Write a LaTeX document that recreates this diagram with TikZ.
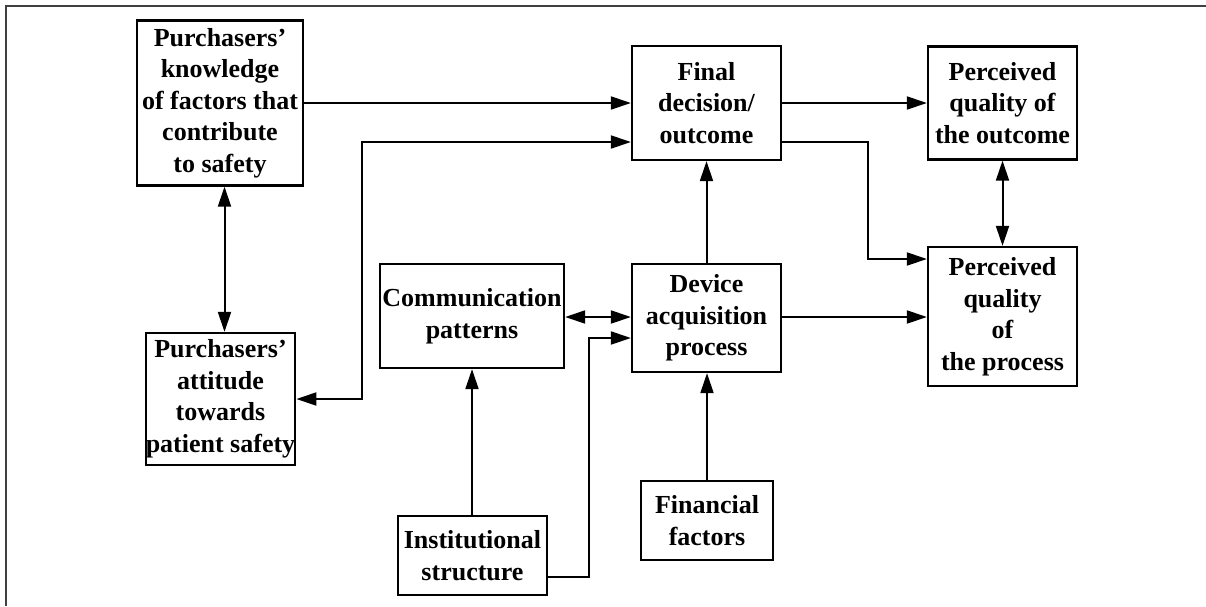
\documentclass[tikz,border=0pt]{standalone}
\usepackage{fontspec}
\setmainfont{Liberation Serif}
\usetikzlibrary{arrows.meta}
\tikzset{
  box/.style={draw, line width=2.3pt, inner sep=0pt, align=center,
    font=\fontsize{26}{31.5}\selectfont\bfseries},
  conn/.style={line width=2pt, -{Triangle[length=20pt,width=13pt]}},
  biconn/.style={line width=2pt, {Triangle[length=20pt,width=13pt]}-{Triangle[length=20pt,width=13pt]}},
  frame/.style={line width=1.4pt, draw=black!75}
}
\begin{document}
\begin{tikzpicture}[x=1pt,y=-1pt]
\useasboundingbox (0,0) rectangle (1206,606);
% outer frame lines
\draw[frame] (6,606) -- (6,6) -- (1206,6);

% boxes
\node[box, minimum width=166pt, minimum height=165pt] (know) at (220,103) {Purchasers’\\knowledge\\of factors that\\contribute\\to safety};
\node[box, minimum width=149pt, minimum height=132pt] (att) at (220.5,399) {Purchasers’\\attitude\\towards\\patient safety};
\node[box, minimum width=149pt, minimum height=114pt] (final) at (706.5,103) {Final\\decision/\\outcome};
\node[box, minimum width=149pt, minimum height=113pt] (pqo) at (1002.5,103) {Perceived\\quality of\\the outcome};
\node[box, minimum width=149pt, minimum height=139pt] (pqp) at (1002.5,316.5) {Perceived\\quality\\of\\the process};
\node[box, minimum width=184pt, minimum height=104pt] (comm) at (472,316) {Communication\\patterns};
\node[box, minimum width=149pt, minimum height=108pt] (dev) at (706.5,318) {Device\\acquisition\\process};
\node[box, minimum width=149pt, minimum height=79pt] (inst) at (472.5,555.5) {Institutional\\structure};
\node[box, minimum width=132pt, minimum height=79pt] (fin) at (707,520.5) {Financial\\factors};

% bend points
\coordinate (attbend) at (362,399);
\coordinate (finbend) at (868,142);
\coordinate (instbend) at (589,577);

% connectors
\draw[conn] (know.east) -- (final.west |- know.east);
\draw[biconn] (att.east) -- (attbend) |- (final.west |- 0,142);
\draw[conn] (final.east) -- (pqo.west |- final.east);
\draw[conn] (final.east |- 0,142) -- (finbend) |- (pqp.west |- 0,259);
\draw[biconn] (pqo.south) -- (pqp.north);
\draw[biconn] (know.south -| 224.5,0) -- (att.north -| 224.5,0);
\draw[biconn] (comm.east |- 0,317) -- (dev.west |- 0,317);
\draw[conn] (inst.east |- instbend) -- (instbend) |- (dev.west |- 0,338);
\draw[conn] (inst.north -| comm.south) -- (comm.south);
\draw[conn] (fin.north) -- (dev.south -| fin.north);
\draw[conn] (dev.north) -- (final.south);
\draw[conn] (dev.east |- 0,317) -- (pqp.west |- 0,317);
\end{tikzpicture}
\end{document}
